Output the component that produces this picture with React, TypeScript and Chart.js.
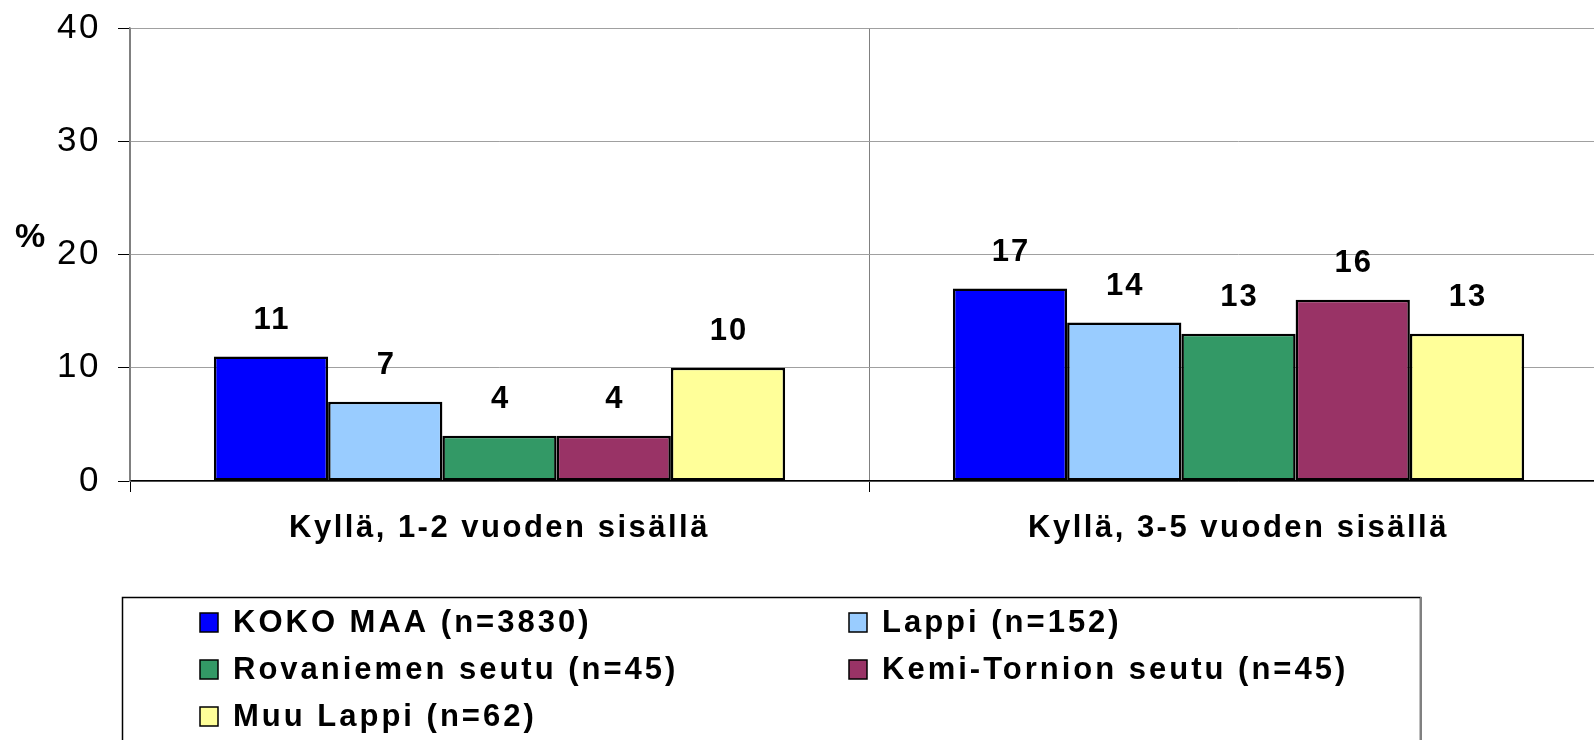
import React, { useEffect, useRef } from "react";
import { Chart, registerables } from "chart.js";

Chart.register(...registerables);

const categories = ["Kyllä, 1-2 vuoden sisällä", "Kyllä, 3-5 vuoden sisällä"];
const seriesNames = [
  "KOKO MAA (n=3830)",
  "Lappi (n=152)",
  "Rovaniemen seutu (n=45)",
  "Kemi-Tornion seutu (n=45)",
  "Muu Lappi (n=62)",
];
const kokoMaa = [11, 17];
const lappi = [7, 14];
const rovaniemi = [4, 13];
const kemiTornio = [4, 16];
const muuLappi = [10, 13];
const seriesValues = [kokoMaa, lappi, rovaniemi, kemiTornio, muuLappi];
const seriesColors = ["#0000FF", "#99CCFF", "#339966", "#993366", "#FFFF99"];
const yMin = 0;
const yMax = 40;
const yStep = 10;
const yAxisLabel = "%";

const FONT = "'Liberation Sans', Arial, Helvetica, sans-serif";

const decorPlugin = {
  id: "decor",
  beforeDraw(chart: any) {
    chart.ctx.letterSpacing = "2.5px";
  },
  afterDatasetsDraw(chart: any) {
    const ctx = chart.ctx;
    ctx.save();
    ctx.letterSpacing = "2px";
    ctx.font = `bold 31px ${FONT}`;
    ctx.fillStyle = "#000";
    ctx.textAlign = "center";
    ctx.textBaseline = "middle";
    chart.data.datasets.forEach((ds: any, i: number) => {
      const meta = chart.getDatasetMeta(i);
      meta.data.forEach((bar: any, j: number) => {
        ctx.fillText(String(ds.data[j]), bar.x + 1, bar.y - 36);
      });
    });
    ctx.restore();
  },
  afterDraw(chart: any) {
    const ctx = chart.ctx;
    ctx.save();
    ctx.letterSpacing = "0px";
    // % label
    ctx.font = `bold 34px ${FONT}`;
    ctx.fillStyle = "#000";
    ctx.textAlign = "center";
    ctx.textBaseline = "middle";
    ctx.fillText(yAxisLabel, 30, 238);

    // legend box
    ctx.strokeStyle = "#000";
    ctx.lineWidth = 1.5;
    ctx.strokeRect(122.5, 597.5, 1298, 220);
    ctx.strokeStyle = "#808080";
    ctx.lineWidth = 2;
    ctx.beginPath();
    ctx.moveTo(1421, 597);
    ctx.lineTo(1421, 760);
    ctx.stroke();

    const cols = [200, 849];
    const rows = [622, 669, 716];
    ctx.font = `bold 31px ${FONT}`;
    ctx.letterSpacing = "3px";
    ctx.textAlign = "left";
    ctx.textBaseline = "middle";
    chart.data.datasets.forEach((ds: any, i: number) => {
      const x = cols[i % 2];
      const y = rows[Math.floor(i / 2)];
      ctx.fillStyle = ds.backgroundColor;
      ctx.fillRect(x, y - 9, 18, 19);
      ctx.strokeStyle = "#000";
      ctx.lineWidth = 1.5;
      ctx.strokeRect(x, y - 9, 18, 19);
      ctx.fillStyle = "#000";
      ctx.fillText(ds.label, x + 33, y + 1);
    });
    ctx.restore();
    ctx.letterSpacing = "0px";
  },
};

export default function App() {
  const ref = useRef<HTMLCanvasElement | null>(null);

  useEffect(() => {
    if (!ref.current) return;
    const chart = new Chart(ref.current, {
      type: "bar",
      data: {
        labels: categories,
        datasets: seriesNames.map((name, i) => ({
          label: name,
          data: seriesValues[i],
          backgroundColor: seriesColors[i],
          borderColor: "#000",
          borderWidth: 2.5,
          borderSkipped: false,
          categoryPercentage: 0.773,
          barPercentage: 1,
        })),
      },
      options: {
        animation: false,
        responsive: false,
        devicePixelRatio: 1,
        layout: { padding: { left: 0, right: 2, top: 28, bottom: 0 } },
        plugins: {
          legend: { display: false },
          tooltip: { enabled: false },
          title: { display: false },
        },
        scales: {
          x: {
            offset: true,
            grid: {
              offset: true,
              color: "#808080",
              tickColor: "#000",
              tickLength: 11,
              lineWidth: 1,
            },
            border: { color: "#000", width: 1.5 },
            ticks: {
              font: { family: FONT, size: 31, weight: "bold" },
              color: "#000",
              padding: 18,
              maxRotation: 0,
              autoSkip: false,
            },
            afterFit: (s: any) => {
              s.height = 259;
              s.paddingLeft = 0;
              s.paddingRight = 0;
            },
          },
          y: {
            min: yMin,
            max: yMax,
            ticks: {
              stepSize: yStep,
              font: { family: FONT, size: 35 },
              color: "#000",
              padding: 17,
            },
            grid: { color: "#a0a0a0", tickColor: "#000", tickLength: 12, lineWidth: 1 },
            border: { color: "#808080", width: 1.5 },
            afterFit: (s: any) => {
              s.width = 130;
              s.paddingTop = 0;
              s.paddingBottom = 0;
            },
          },
        },
      },
      plugins: [decorPlugin],
    });
    return () => chart.destroy();
  }, []);

  return (
    <div
      style={{
        position: "fixed",
        left: 0,
        top: 0,
        width: 1594,
        height: 740,
        overflow: "hidden",
        background: "#fff",
      }}
    >
      <canvas ref={ref} width={1610} height={740} style={{ display: "block", width: 1610, height: 740 }} />
    </div>
  );
}
